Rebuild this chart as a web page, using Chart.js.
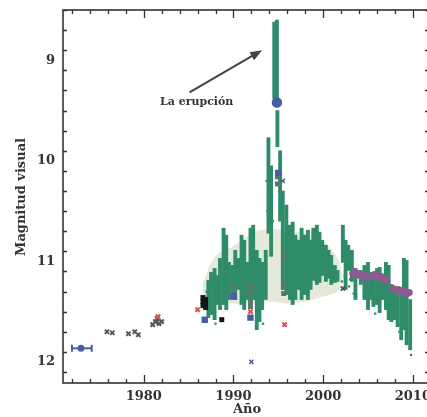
<!DOCTYPE html>
<html>
<head>
<meta charset="utf-8">
<script src="https://cdn.jsdelivr.net/npm/chart.js@4/dist/chart.umd.min.js"></script>
<style>
html, body { margin: 0; padding: 0; overflow: hidden; background: #fff; }
</style>
</head>
<body>
<canvas id="chart1" width="430" height="417"></canvas>
<script>
// Curva de luz: años y magnitudes
// Franjas verdes (observaciones visuales): año, magnitud más brillante, más débil
var franjaAnio = [1987.2, 1987.5, 1987.9, 1988.2, 1988.5, 1988.9, 1989.2, 1989.5, 1989.9, 1990.2,
    1990.6, 1990.9, 1991.2, 1991.6, 1991.9, 1992.2, 1992.6, 1992.9, 1993.2, 1993.6,
    1993.9, 1994.2, 1994.55, 1994.85, 1994.9, 1995.2, 1995.5, 1995.9, 1996.3, 1996.6,
    1996.9, 1997.3, 1997.6, 1997.9, 1998.3, 1998.6, 1998.9, 1999.3, 1999.6, 1999.9,
    2000.3, 2000.6, 2000.9, 2001.3, 2001.6, 2002.2, 2002.5, 2002.8, 2003.2, 2003.6,
    2004.2, 2004.6, 2005.0, 2005.3, 2005.6, 2006.0, 2006.3, 2006.6, 2007.0, 2007.3,
    2007.6, 2008.0, 2008.3, 2008.7, 2009.0, 2009.3, 2009.7];
var franjaBrillo = [11.19, 11.11, 11.07, 11.14, 10.97, 10.67, 10.74, 11.01, 11.04, 10.89,
    10.97, 10.74, 10.79, 11.01, 10.67, 10.64, 10.89, 10.97, 11.01, 10.89,
    9.77, 10.05, 8.62, 8.60, 9.50, 9.90, 10.30, 10.44, 10.64, 10.61,
    10.74, 10.79, 10.67, 10.74, 10.69, 10.79, 10.67, 10.64, 10.71, 10.79,
    10.84, 10.89, 10.94, 11.04, 11.09, 10.64, 10.79, 10.84, 10.89, 11.07,
    11.09, 11.04, 11.01, 11.11, 11.14, 11.07, 11.06, 11.14, 11.01, 11.04,
    11.23, 11.31, 11.33, 11.28, 10.97, 10.99, 11.38];
var franjaDebil = [11.56, 11.53, 11.58, 11.43, 11.48, 11.43, 11.48, 11.38, 11.30, 11.38,
    11.28, 11.43, 11.48, 11.38, 11.43, 11.38, 11.68, 11.60, 11.48, 11.38,
    10.72, 10.95, 9.38, 9.40, 9.86, 10.60, 11.28, 11.33, 11.38, 11.43,
    11.38, 11.28, 11.38, 11.33, 11.38, 11.28, 11.19, 11.23, 11.21, 11.14,
    11.20, 11.17, 11.23, 11.21, 11.20, 11.01, 11.28, 11.09, 11.20, 11.38,
    11.23, 11.38, 11.48, 11.38, 11.45, 11.43, 11.51, 11.38, 11.48, 11.58,
    11.60, 11.58, 11.65, 11.78, 11.68, 11.83, 11.88];
// Observaciones verdes sueltas
var sueltoAnio = [1987.0, 1988.0, 1993.3, 1993.7, 1993.8, 1994.3, 1994.4, 1995.1, 1995.3, 1995.4,
    2002.1, 2002.4, 2002.6, 2002.9, 2003.0, 2003.4, 2005.8, 2008.5, 2009.8];
var sueltoMag = [11.30, 11.62, 11.62, 10.20, 10.50, 10.35, 10.60, 10.30, 10.05, 10.45,
    11.20, 11.15, 11.05, 11.25, 11.18, 11.32, 11.52, 11.70, 11.93];

// Zona pálida de fondo
var fondoAnio = [1986.6, 1988.0, 1990.0, 1992.0, 1994.0, 1996.0, 1998.0, 2000.0, 2001.6, 2002.1];
var fondoArriba = [11.22, 10.95, 10.85, 10.72, 10.68, 10.70, 10.72, 10.80, 10.97, 11.12];
var fondoAbajo = [11.36, 11.40, 11.42, 11.42, 11.40, 11.42, 11.40, 11.35, 11.30, 11.20];

// Puntos aislados
var grisAnio = [1975.9, 1976.5, 1978.3, 1979.0, 1979.4, 1981.0, 1981.3, 1981.7, 1982.0, 1981.5, 2002.2];
var grisMag = [11.70, 11.71, 11.72, 11.70, 11.73, 11.63, 11.60, 11.62, 11.60, 11.57, 11.27];
var negroAnio = [1986.6, 1986.6, 1986.6, 1986.9, 1986.9, 1986.9, 1988.7];
var negroMag = [11.36, 11.40, 11.44, 11.38, 11.42, 11.46, 11.58];
var azulAnio = [1986.8, 1990.0, 1991.9, 1992.0, 1994.85, 1995.5, 1995.0];
var azulMag = [11.58, 11.35, 11.56, 12.00, 9.42, 10.20, 10.12];
var azulEstilo = ['rect', 'rect', 'rect', 'crossRot', 'circle', 'crossRot', 'rect'];
var pizarraAnio = [1990.0, 1990.0, 1991.9, 1991.9, 1991.9, 1991.9, 1994.9, 1994.9, 1995.6, 1995.6, 1995.6, 1995.6];
var pizarraMag = [11.25, 11.31, 11.25, 11.32, 11.40, 11.45, 10.16, 10.23, 10.95, 11.20, 11.26, 11.32];
var rojoAnio = [1981.6, 1986.0, 1991.9, 1995.7];
var rojoMag = [11.55, 11.48, 11.50, 11.63];
var moradoAnio = [2003.3, 2003.5, 2003.7, 2003.9, 2004.1, 2004.3, 2004.5, 2004.7, 2004.9,
    2005.5, 2005.7, 2005.9, 2006.1, 2006.3, 2006.5, 2006.7, 2006.9, 2007.1,
    2007.8, 2008.0, 2008.2, 2008.4, 2008.6, 2008.8, 2009.0, 2009.2, 2009.4, 2009.6];
var moradoMag = [11.12, 11.10, 11.13, 11.12, 11.14, 11.13, 11.15, 11.14, 11.16,
    11.14, 11.13, 11.15, 11.14, 11.16, 11.15, 11.18, 11.17, 11.19,
    11.27, 11.28, 11.29, 11.28, 11.30, 11.29, 11.31, 11.30, 11.32, 11.31];
// Punto antiguo con barra de error en el año
var errorAnio = [1972.0, 1973.0, 1974.2];
var errorMag = [11.865, 11.865, 11.865];

// Ejes
var xMin = 1971, xMax = 2011.8;
var yMin = 8.5, yMax = 12.21;
var xEtiquetas = [1980, 1990, 2000, 2010];
var yEtiquetas = [9, 10, 11, 12];
var flecha = { texto: 'La erupción', anio: 1985.9, mag: 9.42, desde: [1985.1, 9.32], hasta: [1993.2, 8.9] };

function puntos(xs, ys) {
    return xs.map(function (v, i) { return { x: v, y: ys[i] }; });
}
function franjas(xs, a, b) {
    return xs.map(function (v, i) { return { x: v, y: [a[i], b[i]] }; });
}

var fuente = 'bold 13px "DejaVu Serif", serif';
var ejes = {
    id: 'ejes',
    afterDraw: function (chart) {
        var ctx = chart.ctx, a = chart.chartArea;
        var sx = chart.scales.x, sy = chart.scales.y;
        ctx.save();
        ctx.strokeStyle = '#333';
        ctx.lineWidth = 1.6;
        ctx.strokeRect(a.left, a.top, a.right - a.left, a.bottom - a.top);
        ctx.lineWidth = 1.3;
        // ticks hacia dentro
        for (var v = 1972; v <= 2011; v += 2) {
            var px = Math.round(sx.getPixelForValue(v)) + 0.5;
            var largo = (v % 10 === 0) ? 8 : 4;
            ctx.beginPath();
            ctx.moveTo(px, a.bottom); ctx.lineTo(px, a.bottom - largo);
            ctx.moveTo(px, a.top); ctx.lineTo(px, a.top + largo);
            ctx.stroke();
        }
        for (var k = 43; k <= 122; k += 2) {
            var m = k / 10;
            if (m < yMin || m > yMax) continue;
            var py = Math.round(sy.getPixelForValue(m)) + 0.5;
            var l2 = (k % 10 === 0) ? 8 : 4;
            ctx.beginPath();
            ctx.moveTo(a.left, py); ctx.lineTo(a.left + l2, py);
            ctx.moveTo(a.right, py); ctx.lineTo(a.right - l2, py);
            ctx.stroke();
        }
        ctx.fillStyle = '#333';
        ctx.font = fuente;
        ctx.textAlign = 'center';
        ctx.textBaseline = 'middle';
        xEtiquetas.forEach(function (e) {
            ctx.fillText(String(e), sx.getPixelForValue(e), 397);
        });
        ctx.textAlign = 'right';
        yEtiquetas.forEach(function (e) {
            ctx.fillText(String(e), 55, sy.getPixelForValue(e));
        });
        // títulos
        ctx.textAlign = 'center';
        ctx.textBaseline = 'top';
        ctx.fillText('Año', 247, 403);
        ctx.translate(22, 197);
        ctx.rotate(-Math.PI / 2);
        ctx.textBaseline = 'middle';
        ctx.font = 'bold 13px "DejaVu Serif", serif';
        ctx.fillText('Magnitud visual', 0, 0);
        ctx.restore();

        // anotación
        ctx.save();
        var x0 = sx.getPixelForValue(flecha.desde[0]), y0 = sy.getPixelForValue(flecha.desde[1]);
        var x1 = sx.getPixelForValue(flecha.hasta[0]), y1 = sy.getPixelForValue(flecha.hasta[1]);
        var ang = Math.atan2(y1 - y0, x1 - x0);
        ctx.strokeStyle = '#444';
        ctx.fillStyle = '#444';
        ctx.lineWidth = 2;
        ctx.beginPath();
        ctx.moveTo(x0, y0);
        ctx.lineTo(x1 - 8 * Math.cos(ang), y1 - 8 * Math.sin(ang));
        ctx.stroke();
        ctx.beginPath();
        ctx.moveTo(x1, y1);
        ctx.lineTo(x1 - 12 * Math.cos(ang) + 4.5 * Math.sin(ang), y1 - 12 * Math.sin(ang) - 4.5 * Math.cos(ang));
        ctx.lineTo(x1 - 12 * Math.cos(ang) - 4.5 * Math.sin(ang), y1 - 12 * Math.sin(ang) + 4.5 * Math.cos(ang));
        ctx.closePath();
        ctx.fill();
        ctx.fillStyle = '#333';
        ctx.font = 'bold 11px "DejaVu Serif", serif';
        ctx.textAlign = 'center';
        ctx.textBaseline = 'middle';
        ctx.fillText(flecha.texto, sx.getPixelForValue(flecha.anio), sy.getPixelForValue(flecha.mag));
        ctx.restore();
    }
};

document.addEventListener('DOMContentLoaded', function () {
    var ctx1 = document.getElementById('chart1').getContext('2d');
    var verde = '#2e8c69';
    var chart1 = new Chart(ctx1, {
        type: 'scatter',
        data: {
            datasets: [{
                type: 'line',
                data: puntos(fondoAnio, fondoArriba),
                showLine: true, borderWidth: 0, pointRadius: 0, tension: 0.4,
                borderColor: 'rgba(0,0,0,0)', fill: false, order: 30
            }, {
                type: 'line',
                data: puntos(fondoAnio, fondoAbajo),
                showLine: true, borderWidth: 0, pointRadius: 0, tension: 0.4,
                borderColor: 'rgba(0,0,0,0)', backgroundColor: '#e4e9d9', fill: '-1', order: 29
            }, {
                type: 'bar',
                data: franjas(franjaAnio, franjaBrillo, franjaDebil),
                backgroundColor: verde, barThickness: 3.2, grouped: false, order: 20
            }, {
                data: puntos(sueltoAnio, sueltoMag),
                pointStyle: 'rect', pointRadius: 1.6, borderWidth: 0,
                backgroundColor: verde, order: 19
            }, {
                data: puntos(grisAnio, grisMag),
                pointStyle: 'crossRot', pointRadius: 3, borderWidth: 2,
                borderColor: '#555', backgroundColor: '#555', order: 10
            }, {
                data: puntos(pizarraAnio, pizarraMag),
                pointStyle: 'rect', pointRadius: 3.5, borderWidth: 0,
                backgroundColor: '#5d7571', order: 9
            }, {
                data: puntos(negroAnio, negroMag),
                pointStyle: 'rect', pointRadius: 3.5, borderWidth: 0,
                backgroundColor: '#151515', order: 8
            }, {
                data: puntos(rojoAnio, rojoMag),
                pointStyle: 'crossRot', pointRadius: 3, borderWidth: 2,
                borderColor: '#e0504c', order: 7
            }, {
                data: puntos(moradoAnio, moradoMag),
                pointStyle: 'circle', pointRadius: 3.5, borderWidth: 0,
                backgroundColor: '#8d5b90', order: 6
            }, {
                data: puntos(azulAnio, azulMag),
                pointStyle: azulEstilo,
                pointRadius: [3.5, 3.5, 3.5, 3, 4.5, 3, 3.5], borderWidth: 1.5,
                borderColor: '#4a5ca6', backgroundColor: '#4a5ca6', order: 5
            }, {
                type: 'line',
                data: puntos(errorAnio, errorMag),
                showLine: true, borderWidth: 2, borderColor: '#4a5ca6', backgroundColor: '#4a5ca6',
                pointStyle: ['line', 'circle', 'line'], rotation: [90, 0, 90],
                pointRadius: [3.5, 2.5, 3.5], pointBorderWidth: 2, order: 4
            }]
        },
        options: {
            responsive: false,
            animation: false,
            layout: { autoPadding: false, padding: { left: 63, top: 10, right: 1, bottom: 34 } },
            plugins: { legend: { display: false }, tooltip: { enabled: false } },
            scales: {
                x: { type: 'linear', min: xMin, max: xMax, offset: false, display: false },
                y: { type: 'linear', min: yMin, max: yMax, reverse: true, display: false }
            }
        },
        plugins: [ejes]
    });
});
</script>
</body>
</html>
